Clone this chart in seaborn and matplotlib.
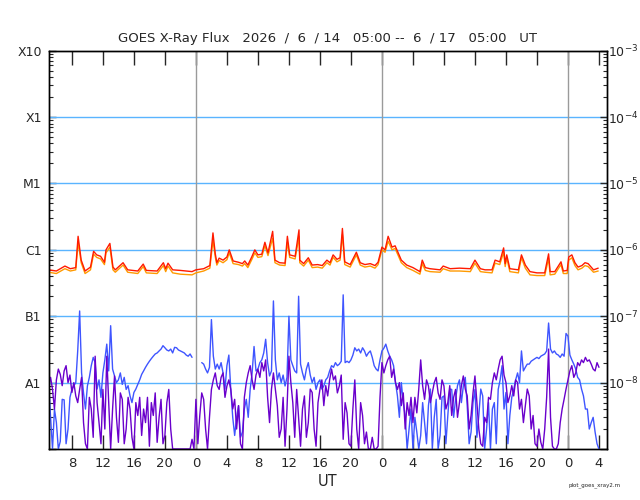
import pandas as pd
import numpy as np
import matplotlib
matplotlib.use("Agg")
import matplotlib.pyplot as plt
import matplotlib.dates as mdates
from matplotlib.ticker import FuncFormatter, LogLocator, NullFormatter
import seaborn as sns

sns.set_style("white")
plt.rcParams['font.family'] = ['DejaVu Sans']

# =========================
# DATA
# =========================
START = pd.Timestamp("2026-06-14 05:00")
END = pd.Timestamp("2026-06-17 05:00")
nan = np.nan

# long channel (1-8 A), irregular samples, hours since start
red_hours = [
    0.0, 1.0, 2.1, 2.8, 3.5, 3.8, 4.2, 4.7, 5.4, 5.8,
    6.2, 6.7, 7.2, 7.4, 7.9, 8.3, 8.6, 9.6, 10.2, 11.5,
    12.2, 12.6, 14.0, 14.8, 15.1, 15.4, 16.0, 17.0, 18.5, 19.0,
    20.0, 20.8, 21.2, 21.5, 21.7, 22.0, 22.5, 23.0, 23.3, 23.8,
    24.5, 25.0, 25.3, 25.7, 26.2, 26.6, 27.0, 27.5, 27.9, 28.3,
    28.9, 29.2, 29.8, 30.5, 30.8, 31.1, 31.8, 32.3, 32.4, 32.9,
    33.5, 34.0, 34.7, 35.3, 35.9, 36.3, 36.7, 37.2, 37.6, 37.9,
    38.2, 38.9, 39.7, 40.2, 40.8, 41.5, 42.1, 42.5, 43.0, 43.4,
    43.8, 44.3, 44.7, 45.1, 45.5, 46.2, 47.0, 47.9, 48.2, 48.6,
    49.2, 50.5, 50.9, 51.8, 53.0, 54.4, 55.0, 55.7, 56.3, 57.2,
    57.6, 58.2, 58.7, 58.9, 59.1, 59.5, 60.6, 61.0, 61.5, 62.1,
    63.0, 64.0, 64.5, 64.7, 65.3, 66.1, 66.4, 66.9, 67.1, 67.5,
    67.9, 68.3, 68.8, 69.2, 69.6, 70.3, 70.9,
]
red_flux = [
    5.0e-7, 4.8e-7, 5.7e-7, 5.2e-7, 5.4e-7, 1.6e-6, 7.0e-7, 4.8e-7, 5.5e-7, 9.5e-7,
    8.4e-7, 8.0e-7, 6.5e-7, 1.0e-6, 1.25e-6, 5.5e-7, 5.0e-7, 6.4e-7, 5.0e-7, 4.8e-7,
    6.1e-7, 4.9e-7, 4.8e-7, 6.4e-7, 5.2e-7, 6.3e-7, 5.0e-7, 4.9e-7, 4.7e-7, 5.0e-7,
    5.2e-7, 5.8e-7, 1.8e-6, 8.7e-7, 6.4e-7, 7.5e-7, 7.0e-7, 7.8e-7, 1.0e-6, 6.8e-7,
    6.5e-7, 6.2e-7, 6.8e-7, 5.9e-7, 7.8e-7, 1.0e-6, 8.4e-7, 8.6e-7, 1.3e-6, 9.0e-7,
    1.9e-6, 7.0e-7, 6.4e-7, 6.3e-7, 1.6e-6, 8.4e-7, 8.0e-7, 2.0e-6, 7.0e-7, 6.2e-7,
    7.6e-7, 5.9e-7, 6.0e-7, 5.8e-7, 7.0e-7, 6.4e-7, 8.4e-7, 7.2e-7, 7.6e-7, 2.1e-6,
    6.6e-7, 6.0e-7, 9.2e-7, 6.4e-7, 6.0e-7, 6.2e-7, 5.8e-7, 6.5e-7, 1.1e-6, 1.0e-6,
    1.6e-6, 1.1e-6, 1.15e-6, 9.0e-7, 7.0e-7, 5.9e-7, 5.4e-7, 4.7e-7, 7.0e-7, 5.4e-7,
    5.2e-7, 5.0e-7, 5.7e-7, 5.2e-7, 5.3e-7, 5.2e-7, 7.0e-7, 5.2e-7, 5.0e-7, 5.0e-7,
    7.0e-7, 6.6e-7, 1.07e-6, 6.2e-7, 8.4e-7, 5.2e-7, 5.0e-7, 8.4e-7, 5.9e-7, 4.7e-7,
    4.5e-7, 4.5e-7, 8.7e-7, 4.7e-7, 4.7e-7, 6.6e-7, 4.8e-7, 4.9e-7, 7.8e-7, 8.4e-7,
    6.4e-7, 5.5e-7, 5.8e-7, 6.4e-7, 6.2e-7, 5.0e-7, 5.3e-7,
]
orange_flux = [
    4.6e-7, 4.4e-7, 5.2e-7, 4.8e-7, 5.0e-7, 1.3e-6, 6.4e-7, 4.4e-7, 5.0e-7, 8.6e-7,
    7.7e-7, 7.3e-7, 6.0e-7, 9.0e-7, 1.1e-6, 5.0e-7, 4.6e-7, 5.9e-7, 4.6e-7, 4.4e-7,
    5.6e-7, 4.5e-7, 4.4e-7, 5.8e-7, 4.7e-7, 5.7e-7, 4.5e-7, 4.3e-7, 4.2e-7, 4.5e-7,
    4.8e-7, 5.3e-7, 1.4e-6, 7.8e-7, 5.9e-7, 6.9e-7, 6.4e-7, 7.1e-7, 9.0e-7, 6.2e-7,
    6.0e-7, 5.7e-7, 6.2e-7, 5.4e-7, 7.1e-7, 9.0e-7, 7.7e-7, 7.9e-7, 1.15e-6, 8.2e-7,
    1.5e-6, 6.4e-7, 5.9e-7, 5.8e-7, 1.3e-6, 7.7e-7, 7.3e-7, 1.6e-6, 6.4e-7, 5.7e-7,
    7.0e-7, 5.4e-7, 5.5e-7, 5.3e-7, 6.4e-7, 5.9e-7, 7.7e-7, 6.6e-7, 7.0e-7, 1.7e-6,
    6.0e-7, 5.5e-7, 8.4e-7, 5.9e-7, 5.5e-7, 5.7e-7, 5.3e-7, 6.0e-7, 1.0e-6, 9.2e-7,
    1.35e-6, 1.0e-6, 1.05e-6, 8.2e-7, 6.4e-7, 5.4e-7, 4.9e-7, 4.3e-7, 6.2e-7, 4.9e-7,
    4.7e-7, 4.6e-7, 5.2e-7, 4.8e-7, 4.8e-7, 4.7e-7, 6.3e-7, 4.7e-7, 4.6e-7, 4.5e-7,
    6.3e-7, 6.0e-7, 9.2e-7, 5.6e-7, 7.6e-7, 4.7e-7, 4.5e-7, 7.6e-7, 5.3e-7, 4.2e-7,
    4.1e-7, 4.1e-7, 7.4e-7, 4.2e-7, 4.3e-7, 6.0e-7, 4.4e-7, 4.4e-7, 7.0e-7, 7.6e-7,
    5.8e-7, 5.0e-7, 5.3e-7, 5.8e-7, 5.6e-7, 4.6e-7, 4.8e-7,
]

# short channel (0.5-4 A), every 15 min from start (nan = data gap)
blue_flux = [
    1.0e-8, 3e-9, 1e-9, 4e-9, 2.5e-9, 1e-9, 1.3e-9, 5.6e-9,
    5.5e-9, 1.2e-9, 2e-9, 6e-9, 7.9e-9, 9e-9, 1.0e-8, 3e-8,
    1.2e-7, 1.4e-8, 7e-9, 4e-9, 8.9e-9, 1.2e-8, 1.8e-8, 2.4e-8,
    2e-8, 8e-9, 1.1e-8, 6e-9, 1.4e-8, 2.2e-8, 3.8e-8, 1.5e-8,
    7.2e-8, 1.6e-8, 1.26e-8, 1.0e-8, 1.1e-8, 1.4e-8, 9.4e-9, 1.2e-8,
    7.9e-9, 9e-9, 6.3e-9, 5e-9, 7.1e-9, 8e-9, 9.4e-9, 1.1e-8,
    1.33e-8, 1.5e-8, 1.7e-8, 1.9e-8, 2.1e-8, 2.3e-8, 2.5e-8, 2.7e-8,
    2.8e-8, 3.0e-8, 3.2e-8, 3.6e-8, 3.35e-8, 3.1e-8, 3.0e-8, 3.2e-8,
    2.8e-8, 3.4e-8, 3.35e-8, 3.1e-8, 3.0e-8, 2.9e-8, 2.8e-8, 2.6e-8,
    2.5e-8, 2.7e-8, 2.4e-8, nan, nan, nan, nan, 2.0e-8,
    1.9e-8, 1.6e-8, 1.4e-8, 1.7e-8, 8.9e-8, 2.5e-8, 1.6e-8, 1.9e-8,
    1.6e-8, 2.0e-8, 1.4e-8, 8e-9, 1.8e-8, 2.6e-8, 7.9e-9, 3e-9,
    1.6e-9, 3e-9, 4.5e-9, 1.5e-9, 1.8e-9, 4e-9, 5.6e-9, 3e-9,
    7.9e-9, 1.4e-8, 3.5e-8, 1.5e-8, 1.6e-8, 2.0e-8, 2.2e-8, 2.8e-8,
    4.5e-8, 2.0e-8, 1.26e-8, 1.5e-8, 1.7e-7, 2.2e-8, 1.1e-8, 1.4e-8,
    1.0e-8, 1.3e-8, 8.9e-9, 1.2e-8, 1.0e-7, 2.2e-8, 1.8e-8, 1.5e-8,
    1.4e-8, 2.0e-7, 1.9e-8, 1.4e-8, 1.1e-8, 1.6e-8, 2e-8, 1.3e-8,
    1e-8, 1.2e-8, 7.9e-9, 1.0e-8, 1.1e-8, 8e-9, 8.9e-9, 1.1e-8,
    1.2e-8, 1.5e-8, 1.8e-8, 1.7e-8, 2e-8, 1.8e-8, 1.9e-8, 2.1e-8,
    2.1e-7, 2.0e-8, 2.1e-8, 2.0e-8, 2.2e-8, 2.6e-8, 3.35e-8, 3.0e-8,
    3.2e-8, 2.8e-8, 3.35e-8, 3.0e-8, 2.5e-8, 2.8e-8, 3.0e-8, 2.4e-8,
    1.8e-8, 1.6e-8, 1.5e-8, 2.2e-8, 3.0e-8, 3.3e-8, 3.8e-8, 3.0e-8,
    2.5e-8, 2.2e-8, 1.8e-8, 1.0e-8, 6.3e-9, 3e-9, 1e-8, 5e-9,
    3.2e-9, 1e-9, 2e-9, 4e-9, 1e-9, 3e-9, 1.8e-9, 1e-9,
    1.6e-9, 5e-9, 2.5e-9, 1.2e-9, 4.5e-9, 8e-9, 1e-9, 3e-9,
    5.6e-9, 1e-9, 1.6e-9, 6e-9, 6.3e-9, 1.2e-9, 3.2e-9, 8e-9,
    7.9e-9, 3e-9, 5.6e-9, 9e-9, 1.1e-8, 5e-9, 8.9e-9, 1.2e-8,
    4.5e-9, 1.2e-9, 1.8e-9, 5e-9, 7.9e-9, 1.5e-9, 3.2e-9, 8e-9,
    6.3e-9, 1e-9, 2e-9, 5e-9, 1e-9, 4e-9, 5e-9, 1.2e-9,
    7.9e-9, 1.1e-8, 1.8e-8, 4e-9, 7.1e-9, 1.2e-9, 3.2e-9, 6e-9,
    7.9e-9, 1.1e-8, 1.4e-8, 1e-8, 3.0e-8, 1.5e-8, 1.7e-8, 1.9e-8,
    1.9e-8, 2.1e-8, 2.2e-8, 2.3e-8, 2.4e-8, 2.3e-8, 2.5e-8, 2.6e-8,
    2.7e-8, 3.0e-8, 7.9e-8, 3.2e-8, 2.8e-8, 3.0e-8, 2.7e-8, 2.6e-8,
    2.4e-8, 2.7e-8, 2.5e-8, 5.5e-8, 5e-8, 2.6e-8, 2.2e-8, 1.9e-8,
    1.6e-8, 1.2e-8, 1.1e-8, 8e-9, 6.3e-9, 4e-9, 4e-9, 2e-9,
    2.5e-9, 3e-9, 1.8e-9, 1.2e-9, 1e-9,
]
purple_flux = [
    8.9e-9, 1.2e-8, 7.9e-9, 4e-9, 1.1e-8, 1.6e-8, 1.33e-8, 9e-9,
    1.5e-8, 1.8e-8, 1e-8, 1.3e-8, 7.1e-9, 1.0e-8, 6.3e-9, 5e-9,
    7.9e-9, 1.2e-8, 2.5e-9, 1.2e-9, 1e-9, 6e-9, 4e-9, 1.5e-9,
    2.5e-8, 5e-9, 2.5e-9, 1.2e-9, 7.9e-9, 2e-9, 2.5e-8, 5e-9,
    1e-9, 4e-9, 1.26e-8, 3e-9, 1.26e-9, 7e-9, 5.6e-9, 1.2e-9,
    2e-9, 6e-9, 4e-9, 1.5e-9, 1e-9, 5e-9, 3.2e-9, 6e-9,
    1.6e-9, 4e-9, 2.5e-9, 6e-9, 1.1e-9, 5e-9, 3.2e-9, 7e-9,
    1.26e-9, 3e-9, 5.6e-9, 1.2e-9, 1.6e-9, 5e-9, 7.9e-9, 2e-9,
    1e-9, 1e-9, 1e-9, 1e-9, 1e-9, 1e-9, 1e-9, 1e-9,
    1e-9, 1e-9, 1.4e-9, 1e-9, 5.6e-9, 1.2e-9, 3.2e-9, 7e-9,
    5.6e-9, 2e-9, 1e-9, 3e-9, 7.9e-9, 1.1e-8, 1.4e-8, 9e-9,
    7.9e-9, 1.2e-8, 1.4e-8, 6e-9, 8.9e-9, 1.1e-8, 7.9e-9, 4e-9,
    5.6e-9, 2e-9, 4.5e-9, 1.2e-9, 1e-9, 6e-9, 1e-8, 1.4e-8,
    1.8e-8, 1.1e-8, 7.9e-9, 1.3e-8, 1.6e-8, 1.2e-8, 2e-8, 1.5e-8,
    2.2e-8, 6e-9, 2.5e-9, 8e-9, 1.4e-8, 8e-9, 4.5e-9, 1.5e-9,
    2e-9, 6e-9, 1.1e-9, 4e-9, 2.5e-8, 1e-8, 5e-9, 1.5e-9,
    7.9e-9, 3e-9, 1.1e-9, 4e-9, 6.3e-9, 1.5e-9, 2.5e-9, 8e-9,
    7.1e-9, 2e-9, 1.1e-9, 5e-9, 7.9e-9, 1.1e-8, 4.5e-9, 9e-9,
    6.3e-9, 1.1e-8, 1.6e-8, 1.1e-8, 1.26e-8, 7e-9, 8.9e-9, 1.3e-8,
    1.4e-9, 5e-9, 3.5e-9, 1.2e-9, 1.1e-9, 4e-9, 1.1e-8, 2e-9,
    1e-9, 5e-9, 3.2e-9, 1.2e-9, 1.8e-9, 1e-9, 1e-9, 1.5e-9,
    1e-9, 1e-9, 1.1e-9, 6e-9, 2e-8, 1.4e-8, 1.8e-8, 2.2e-8,
    2.5e-8, 1.2e-8, 1.6e-8, 1e-8, 7.9e-9, 1e-8, 4.5e-9, 7e-9,
    2e-9, 5e-9, 3.2e-9, 6e-9, 2.5e-9, 6e-9, 3.5e-9, 8e-9,
    2.2e-8, 9e-9, 5.6e-9, 1.1e-8, 8.9e-9, 5e-9, 7.1e-9, 1.0e-8,
    1.2e-8, 7e-9, 5.6e-9, 1.1e-8, 8.9e-9, 4e-9, 5e-9, 9e-9,
    3.2e-9, 6e-9, 7.9e-9, 3e-9, 5e-9, 9e-9, 1.26e-8, 8e-9,
    6.3e-9, 2e-9, 3.2e-9, 7e-9, 1.26e-8, 5e-9, 2e-9, 1.2e-9,
    1.1e-9, 3e-9, 2.5e-9, 6e-9, 5.6e-9, 1.0e-8, 1.4e-8, 1.1e-8,
    1.6e-8, 2.2e-8, 2.5e-8, 1.3e-8, 1e-8, 5e-9, 6.3e-9, 9e-9,
    6.3e-9, 1.1e-8, 1e-8, 4e-9, 5.6e-9, 2.5e-9, 4.5e-9, 8e-9,
    6.3e-9, 2e-9, 3.2e-9, 1.2e-9, 1.1e-9, 2e-9, 1.26e-9, 1e-9,
    2e-9, 6e-9, 3.2e-8, 3e-9, 1.1e-9, 1e-9, 1e-9, 1.2e-9,
    2.5e-9, 4e-9, 5.6e-9, 8e-9, 1.1e-8, 1.5e-8, 1.8e-8, 1.2e-8,
    1.4e-8, 2.0e-8, 1.8e-8, 2.2e-8, 2e-8, 2.4e-8, 2.1e-8, 2.2e-8,
    1.9e-8, 1.6e-8, 1.5e-8, 2.0e-8, 1.7e-8,
]

class_labels = ["", "A1", "B1", "C1", "M1", "X1", "X10"]
power_labels = ["", r"$10^{-8}$", r"$10^{-7}$", r"$10^{-6}$",
                r"$10^{-5}$", r"$10^{-4}$", r"$10^{-3}$"]
decades = [1e-9, 1e-8, 1e-7, 1e-6, 1e-5, 1e-4, 1e-3]

colors = {"short_b": "#3f55ff", "short_p": "#6a00cc",
          "long_o": "#ff9a00", "long_r": "#ff1a00"}

# =========================
# BUILD LONG TABLE
# =========================
quarter = pd.date_range(START, periods=len(blue_flux), freq="15min")
red_time = START + pd.to_timedelta(red_hours, unit="h")

parts = [
    pd.DataFrame({"time": quarter, "flux": blue_flux, "channel": "short_b"}),
    pd.DataFrame({"time": quarter, "flux": purple_flux, "channel": "short_p"}),
    pd.DataFrame({"time": red_time, "flux": orange_flux, "channel": "long_o"}),
    pd.DataFrame({"time": red_time, "flux": red_flux, "channel": "long_r"}),
]
for p in parts:
    # split at gaps so missing data is not bridged
    p["seg"] = p["flux"].isna().cumsum()
df = pd.concat(parts, ignore_index=True).dropna()

# =========================
# PLOT
# =========================
fig = plt.figure(figsize=(6.4, 5.0), dpi=100)
ax = fig.add_axes([0.076, 0.102, 0.872, 0.7966])

for d in decades[1:-1]:
    ax.axhline(d, color="#5ab4ff", lw=1.0, zorder=1)
for day in pd.date_range("2026-06-15", periods=3, freq="D"):
    ax.axvline(day, color="#9a9a9a", lw=1.0, zorder=1)

sns.lineplot(
    data=df, x="time", y="flux", hue="channel", units="seg",
    estimator=None, sort=False,
    hue_order=["short_b", "short_p", "long_o", "long_r"],
    palette=colors, legend=False, linewidth=1.0, ax=ax, zorder=3,
)

ax.set_yscale("log")
ax.set_ylim(1e-9, 1e-3)
ax.set_xlim(START, END)

ax.set_yticks(decades)
ax.set_yticklabels(class_labels)
ax.yaxis.set_minor_locator(LogLocator(base=10, subs=np.arange(2, 10)))
ax.yaxis.set_minor_formatter(NullFormatter())
ax.tick_params(axis="y", which="major", direction="in", length=5,
               width=1, labelsize=9, pad=5, left=True, right=False)
ax.tick_params(axis="y", which="minor", direction="in", length=3,
               width=0.8, left=True, right=False)

ax.xaxis.set_major_locator(mdates.HourLocator(byhour=range(0, 24, 4)))
ax.xaxis.set_major_formatter(
    FuncFormatter(lambda x, pos: str(mdates.num2date(x).hour)))
ax.tick_params(axis="x", which="major", direction="in", length=10,
               width=1, labelsize=9.5, pad=6, top=True, bottom=True)

ax2 = ax.twinx()
ax2.set_yscale("log")
ax2.set_ylim(1e-9, 1e-3)
ax2.set_yticks(decades)
ax2.set_yticklabels(power_labels)
ax2.yaxis.set_minor_locator(LogLocator(base=10, subs=np.arange(2, 10)))
ax2.yaxis.set_minor_formatter(NullFormatter())
ax2.tick_params(axis="y", which="major", direction="in", length=5,
                width=1, labelsize=9, pad=1)
ax2.tick_params(axis="y", which="minor", direction="in", length=3, width=0.8)

for a in (ax, ax2):
    for s in a.spines.values():
        s.set_color("black")
        s.set_linewidth(1.0)
        s.set_visible(True)

ax.set_ylabel("")
ax.set_xlabel("UT", fontsize=10.5, labelpad=3)
ax.set_title("GOES X-Ray Flux   2026  /  6  / 14   05:00 --  6  / 17   05:00   UT",
             fontsize=9.5, pad=6)

fig.text(0.97, 0.028, "plot_goes_xray2.m", fontsize=4, ha="right")

plt.savefig("out.png", dpi=100)
